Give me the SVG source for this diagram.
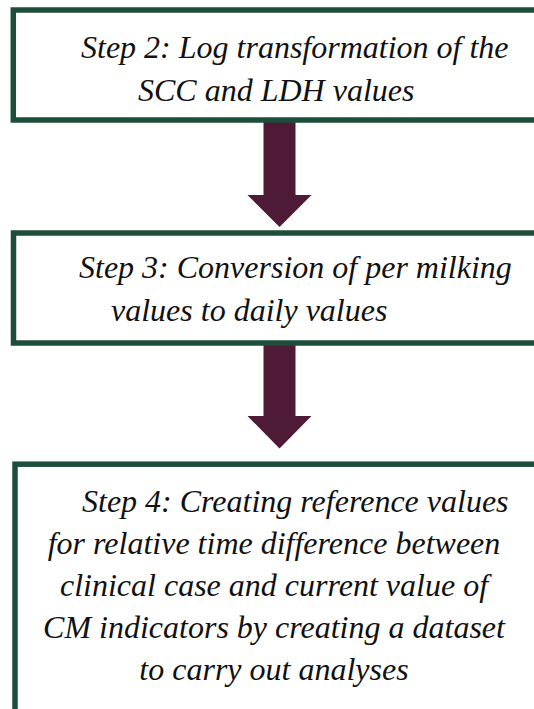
<svg xmlns="http://www.w3.org/2000/svg" width="534" height="709" viewBox="0 0 534 709">
<rect width="534" height="709" fill="#ffffff"/>
<g id="connectors" fill="#4f1a35">
<path d="M263.5,120 H295.5 V195 H311.5 L279.5,227 L247.5,195 H263.5 Z"/>
<path d="M263.5,343 H295.5 V416 H311.5 L279.5,448.5 L247.5,416 H263.5 Z"/>
</g>
<g id="step2">
<rect x="13.3" y="10" width="560" height="110" fill="#ffffff" stroke="#1d4e3b" stroke-width="5.5"/>
<text x="81" y="58" font-family="Times New Roman, Liberation Serif, serif" font-style="italic" font-size="32" fill="#111111">Step 2: Log transformation of the</text>
<text x="138" y="101" font-family="Times New Roman, Liberation Serif, serif" font-style="italic" font-size="32" fill="#111111">SCC and LDH values</text>
</g>
<g id="step3">
<rect x="13.5" y="233" width="560" height="110" fill="#ffffff" stroke="#1d4e3b" stroke-width="5.5"/>
<text x="79" y="278" font-family="Times New Roman, Liberation Serif, serif" font-style="italic" font-size="32" fill="#111111">Step 3: Conversion of per milking</text>
<text x="111" y="321" font-family="Times New Roman, Liberation Serif, serif" font-style="italic" font-size="32" fill="#111111">values to daily values</text>
</g>
<g id="step4">
<rect x="15" y="464.2" width="560" height="260" fill="#ffffff" stroke="#1d4e3b" stroke-width="5.5"/>
<text x="82" y="512" font-family="Times New Roman, Liberation Serif, serif" font-style="italic" font-size="32" fill="#111111">Step 4: Creating reference values</text>
<text x="274" y="554" text-anchor="middle" font-family="Times New Roman, Liberation Serif, serif" font-style="italic" font-size="32" fill="#111111">for relative time difference between</text>
<text x="274" y="596" text-anchor="middle" font-family="Times New Roman, Liberation Serif, serif" font-style="italic" font-size="32" fill="#111111">clinical case and current value of</text>
<text x="274" y="638" text-anchor="middle" font-family="Times New Roman, Liberation Serif, serif" font-style="italic" font-size="32" fill="#111111">CM indicators by creating a dataset</text>
<text x="274" y="680" text-anchor="middle" font-family="Times New Roman, Liberation Serif, serif" font-style="italic" font-size="32" fill="#111111">to carry out analyses</text>
</g>
</svg>
